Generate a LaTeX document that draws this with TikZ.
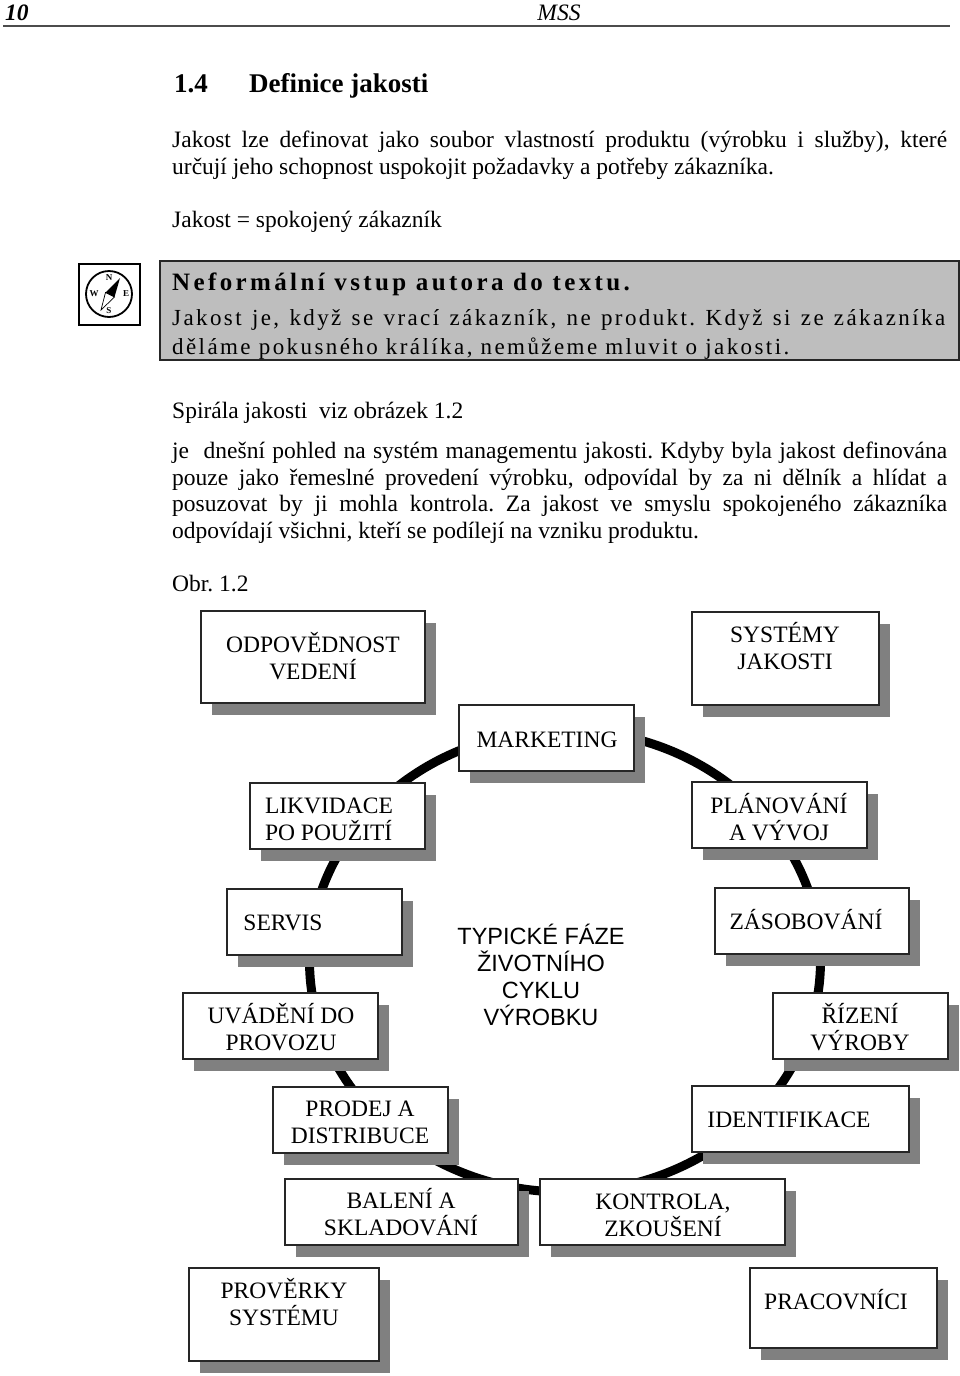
\documentclass[tikz,border=0pt]{standalone}
\usepackage{fontspec}
\usepackage{xcolor}
\setmainfont{Liberation Serif}
\newfontfamily\arialfont{Liberation Sans}
\newfontfamily\spacedfont[LetterSpace=10.5]{Liberation Serif}
\newfontfamily\spacedboldfont[LetterSpace=13.5]{Liberation Serif Bold}
\usetikzlibrary{shadows,shapes.geometric}
\definecolor{shadowgray}{HTML}{808080}
\definecolor{notegray}{HTML}{BEBEBE}
\frenchspacing

\begin{document}
\begin{tikzpicture}[
  x=1pt,
  y=-1pt,
  every node/.style={inner sep=0pt},
  line/.style={anchor=base west, font=\fontsize{23.5}{27}\selectfont},
  noteline/.style={anchor=base west, font=\fontsize{23}{27}\selectfont\spacedfont},
  compassletter/.style={font=\fontsize{9}{9}\selectfont\bfseries},
  stagebox/.style={draw=black!85, line width=1.2pt, fill=white, general shadow={fill=shadowgray, shadow xshift=11pt, shadow yshift=-12pt}},
  stagetext/.style={align=center, font=\fontsize{23.5}{27}\selectfont}
]
\useasboundingbox (0,0) rectangle (960,1376);
\fill[white] (0,0) rectangle (960,1376);
% header
\node[anchor=base west, font=\fontsize{23.5}{27}\selectfont\bfseries\itshape] (pageno) at (5,20) {10};
\node[anchor=base, font=\fontsize{23.5}{27}\selectfont\itshape] (running) at (559,20) {MSS};
\draw[line width=1.6pt, black!70] (3,26) -- (950,26);
% text above the note
\node[anchor=base west, font=\fontsize{27}{27}\selectfont\bfseries] (secno) at (174,92) {1.4};
\node[anchor=base west, font=\fontsize{27}{27}\selectfont\bfseries] (sectitle) at (249,92) {Definice jakosti};
\node[line] (intro1) at (172,147) {\makebox[775pt][s]{Jakost lze definovat jako soubor vlastností produktu (výrobku i služby), které}};
\node[line] (intro2) at (172,174) {určují jeho schopnost uspokojit požadavky a potřeby zákazníka.};
\node[line] (motto) at (172,227) {Jakost = spokojený zákazník};
% compass
\draw[line width=1.4pt] (79,264) rectangle (140,325);
\draw[line width=1.8pt] (109,294) circle (23);
\fill (120,278) -- (114.5,297) -- (105.5,292.5) -- cycle;
\draw[line width=0.7pt, fill=white] (101,310) -- (114.5,297) -- (105.5,292.5) -- cycle;
\node[compassletter] (north) at (109,278) {N};
\node[compassletter] (south) at (109,311) {S};
\node[compassletter] (west) at (94,294) {W};
\node[compassletter] (east) at (126,294) {E};
% note
\draw[line width=1.6pt, fill=notegray, draw=black!85] (160,261) rectangle (959,360);
\node[anchor=base west, font=\fontsize{25}{27}\selectfont\spacedboldfont] (note1) at (172,290) {Neformální vstup autora do textu.};
\node[noteline] (note2) at (172,325) {\makebox[773pt][s]{Jakost je, když se vrací zákazník, ne produkt. Když si ze zákazníka}};
\node[noteline] (note3) at (172,354) {děláme pokusného králíka, nemůžeme mluvit o jakosti.};
% text below the note
\node[line] (spirala) at (172,418) {Spirála jakosti\ \ viz obrázek 1.2};
\node[line] (body1) at (172,458) {\makebox[775pt][s]{je\ \ dnešní pohled na systém managementu jakosti. Kdyby byla jakost definována}};
\node[line] (body2) at (172,485) {\makebox[775pt][s]{pouze jako řemeslné provedení výrobku, odpovídal by za ni dělník a hlídat a}};
\node[line] (body3) at (172,511) {\makebox[775pt][s]{posuzovat by ji mohla kontrola. Za jakost ve smyslu spokojeného zákazníka}};
\node[line] (body4) at (172,538) {odpovídají všichni, kteří se podílejí na vzniku produktu.};
\node[line] (obr) at (172,591) {Obr. 1.2};
% cycle
\node[draw, ellipse, line width=9pt, minimum width=511pt, minimum height=462pt] (cycle) at (565,961) {};
\node[align=center, font=\fontsize{23.5}{27}\selectfont\arialfont] (phases) at (541,975) {TYPICKÉ FÁZE\\ŽIVOTNÍHO\\CYKLU\\VÝROBKU};
% boxes
\node[stagebox, minimum width=224pt, minimum height=92pt] (vedeni) at (313,657) {};
\node[stagetext] (vedenitext) at (313,656.5) {ODPOVĚDNOST\\VEDENÍ};
\node[stagebox, minimum width=187pt, minimum height=93pt] (systemy) at (785.5,658.5) {};
\node[stagetext] (systemytext) at (785,646) {SYSTÉMY\\JAKOSTI};
\node[stagebox, minimum width=175pt, minimum height=66pt] (marketing) at (546.5,738) {};
\node[stagetext] (marketingtext) at (547,740) {MARKETING};
\node[stagebox, minimum width=175pt, minimum height=66pt] (likvidace) at (337.5,816) {};
\node[stagetext, align=left] (likvidacetext) at (329,819) {LIKVIDACE\\PO POUŽITÍ};
\node[stagebox, minimum width=175pt, minimum height=66pt] (planovani) at (779.5,815) {};
\node[stagetext] (planovanitext) at (779,817) {PLÁNOVÁNÍ\\A VÝVOJ};
\node[stagebox, minimum width=175pt, minimum height=66pt] (servis) at (314.5,922) {};
\node[stagetext] (servistext) at (283,923) {SERVIS};
\node[stagebox, minimum width=194pt, minimum height=66pt] (zasobovani) at (812,921) {};
\node[stagetext] (zasobovanitext) at (806,920) {ZÁSOBOVÁNÍ};
\node[stagebox, minimum width=195pt, minimum height=66pt] (uvadeni) at (280.5,1026) {};
\node[stagetext] (uvadenitext) at (281,1027) {UVÁDĚNÍ DO\\PROVOZU};
\node[stagebox, minimum width=175pt, minimum height=66pt] (rizeni) at (860.5,1026) {};
\node[stagetext] (rizenitext) at (860,1027) {ŘÍZENÍ\\VÝROBY};
\node[stagebox, minimum width=175pt, minimum height=66pt] (prodej) at (360.5,1120) {};
\node[stagetext] (prodejtext) at (360,1122) {PRODEJ A\\DISTRIBUCE};
\node[stagebox, minimum width=217pt, minimum height=66pt] (identifikace) at (800.5,1119) {};
\node[stagetext] (identifikacetext) at (789,1120) {IDENTIFIKACE};
\node[stagebox, minimum width=233pt, minimum height=66pt] (baleni) at (401.5,1212) {};
\node[stagetext] (balenitext) at (401,1212) {BALENÍ A\\SKLADOVÁNÍ};
\node[stagebox, minimum width=245pt, minimum height=66pt] (kontrola) at (662.5,1212) {};
\node[stagetext] (kontrolatext) at (663,1215) {KONTROLA,\\ZKOUŠENÍ};
\node[stagebox, minimum width=190pt, minimum height=93pt] (proverky) at (284,1314.5) {};
\node[stagetext] (proverkytext) at (284,1302) {PROVĚRKY\\SYSTÉMU};
\node[stagebox, minimum width=187pt, minimum height=80pt] (pracovnici) at (843.5,1308) {};
\node[stagetext] (pracovnicitext) at (836,1300) {PRACOVNÍCI};
\end{tikzpicture}
\end{document}
